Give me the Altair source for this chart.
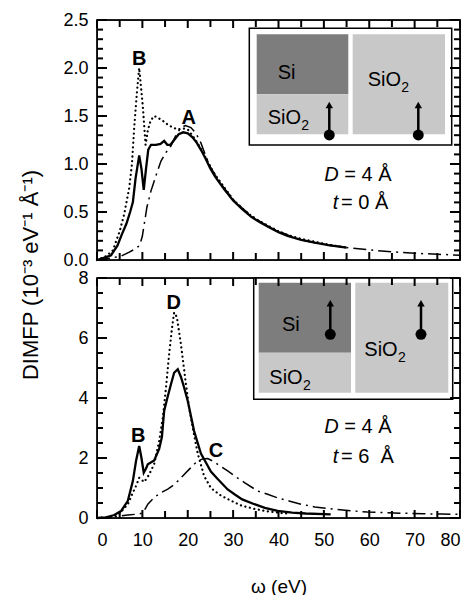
import altair as alt
import pandas as pd

FONT = "Liberation Sans"

# ---------------- data ----------------
x_ticks_major = [0, 10, 20, 30, 40, 50, 60, 70, 80]
x_ticks_minor = [5, 15, 25, 35, 45, 55, 65, 75]

top_y_labels = [0.0, 0.5, 1.0, 1.5, 2.0, 2.5]
top_y_minor = [0.1, 0.2, 0.3, 0.4, 0.6, 0.7, 0.8, 0.9, 1.1, 1.2, 1.3, 1.4,
               1.6, 1.7, 1.8, 1.9, 2.1, 2.2, 2.3, 2.4]
bot_y_labels = [0, 2, 4, 6, 8]
bot_y_minor = [0.5, 1.0, 1.5, 2.5, 3.0, 3.5, 4.5, 5.0, 5.5, 6.5, 7.0, 7.5]

# top panel (t = 0 A)
top_solid_w = [0, 2, 3.1, 4.5, 5.5, 6.5, 7.3, 7.9, 8.5, 9.3, 9.8, 10.3, 10.8, 11.3, 11.9,
               13, 14, 14.8, 15.5, 16.2, 17, 18, 19, 20, 21, 22, 23, 24, 25, 26, 28,
               30, 32, 34, 36, 38, 40, 42, 45, 48, 51, 55]
top_solid_v = [0, 0.03, 0.05, 0.15, 0.27, 0.38, 0.5, 0.6, 0.85, 1.09, 0.95, 0.73, 0.95, 1.15, 1.2,
               1.2, 1.21, 1.24, 1.2, 1.2, 1.25, 1.31, 1.33, 1.32, 1.28, 1.22, 1.14, 1.05, 0.95, 0.87, 0.74,
               0.62, 0.53, 0.45, 0.39, 0.34, 0.29, 0.25, 0.21, 0.18, 0.155, 0.13]

top_dot_w = [0, 2, 3.5, 5, 6, 7.1, 7.7, 8.2, 8.8, 9.3, 9.7, 10.1, 10.4, 10.7, 11.2, 11.8,
             12.6, 13.5, 14.5, 15.6, 16.7, 17.8, 19, 20, 21, 22, 23, 24, 25, 26, 28,
             30, 32, 34, 36, 38, 40, 42, 45, 48, 51, 55]
top_dot_v = [0, 0.04, 0.1, 0.3, 0.48, 0.75, 1.0, 1.38, 1.75, 2.0, 1.8, 1.6, 1.4, 1.2, 1.35, 1.45,
             1.5, 1.48, 1.45, 1.41, 1.38, 1.36, 1.37, 1.36, 1.3, 1.23, 1.15, 1.06, 0.97, 0.89, 0.76,
             0.63, 0.54, 0.46, 0.4, 0.35, 0.3, 0.26, 0.22, 0.19, 0.16, 0.13]

top_dd_w = [0, 3, 5.3, 7, 8.2, 9.4, 10, 10.5, 11, 11.9, 13, 14.1, 15.2, 16.3, 17.4, 18.5,
            19.5, 20.7, 21.8, 22.9, 24, 25, 26, 28, 30, 32, 34, 36, 38, 40, 42, 45,
            48, 51, 55, 60, 65, 70, 75, 80]
top_dd_v = [0, 0.02, 0.04, 0.08, 0.11, 0.15, 0.25, 0.4, 0.55, 0.72, 0.88, 1.03, 1.12, 1.19, 1.3, 1.38,
            1.4, 1.38, 1.32, 1.22, 1.08, 0.97, 0.89, 0.75, 0.63, 0.54, 0.46, 0.4, 0.34, 0.3, 0.26, 0.21,
            0.18, 0.155, 0.13, 0.105, 0.085, 0.07, 0.06, 0.05]

# bottom panel (t = 6 A)
bot_solid_w = [0, 2, 3.8, 5.3, 6.8, 7.9, 8.6, 9.3, 9.8, 10.3, 10.8, 11.2, 12.6, 13.7, 14.3,
               14.8, 15.5, 16.3, 17.0, 17.8, 18.5, 19.2, 20, 21.4, 22.9, 24, 25.1, 26.6, 28.8,
               30.3, 32, 34.7, 37, 39.8, 43, 46, 50, 51.5]
bot_solid_v = [0, 0.02, 0.1, 0.23, 0.57, 1.23, 1.9, 2.4, 2.0, 1.51, 1.65, 1.79, 1.92, 2.3, 2.7,
               3.57, 4.0, 4.46, 4.84, 4.96, 4.7, 4.35, 3.9, 2.9, 2.15, 1.85, 1.55, 1.3, 0.95,
               0.79, 0.62, 0.46, 0.34, 0.24, 0.18, 0.15, 0.13, 0.12]

bot_dot_w = [0, 3, 5, 6.8, 7.9, 8.6, 9.3, 10.4, 11.5, 12.6, 13.7, 14.5, 15.2, 15.9, 16.5,
             17.0, 17.6, 18.5, 19.6, 20.3, 21.1, 22.2, 23.6, 25.1, 27.3, 29.5, 31.7, 34.5,
             37.6, 41, 42]
bot_dot_v = [0, 0.03, 0.15, 0.46, 0.84, 1.07, 1.34, 1.2, 1.45, 1.8, 2.57, 3.34, 4.34, 5.46, 6.3,
             6.85, 6.7, 5.79, 4.46, 3.68, 3.01, 2.15, 1.4, 1.0, 0.75, 0.58, 0.42, 0.31,
             0.22, 0.16, 0.15]

bot_dd_w = [0, 3, 5, 6.8, 9, 10, 10.6, 11.2, 12.6, 14, 15.6, 16.7, 17.8, 19, 20.3, 21.3,
            22.2, 23.3, 24.4, 25.5, 26.6, 28.8, 30.5, 32.5, 35.4, 37.6, 40, 42.5, 45, 48,
            52.3, 56, 59.6, 63, 67, 72, 76, 80]
bot_dd_v = [0, 0.02, 0.07, 0.1, 0.13, 0.16, 0.3, 0.46, 0.68, 0.84, 0.96, 1.08, 1.23, 1.42, 1.62, 1.78,
            1.9, 1.97, 1.98, 1.9, 1.79, 1.57, 1.38, 1.18, 0.9, 0.79, 0.66, 0.56, 0.46, 0.37,
            0.29, 0.24, 0.2, 0.18, 0.16, 0.14, 0.13, 0.12]

top_letters = ["B", "A"]
top_letters_w = [9.3, 20.2]
top_letters_v = [2.09, 1.48]
bot_letters = ["D", "B", "C"]
bot_letters_w = [16.9, 9.1, 26.2]
bot_letters_v = [7.18, 2.73, 2.23]

# ---------------- layout constants ----------------
W, H = 363, 240
DARK = "#7d7d7d"
LIGHT = "#c8c8c8"
one = pd.DataFrame({"k": [0]})


def txt(s, x, y, size, align="left", baseline="alphabetic", style="normal",
        weight="normal", angle=0):
    return alt.Chart(one).mark_text(
        text=s, fontSize=size, align=align, baseline=baseline, fontStyle=style,
        fontWeight=weight, angle=angle, font=FONT, color="black"
    ).encode(x=alt.value(x), y=alt.value(y))


def rect(x1, y1, x2, y2, fill, stroke=None, sw=0, fo=1):
    kw = dict(fill=fill, strokeWidth=sw, fillOpacity=fo)
    if stroke:
        kw["stroke"] = stroke
    return alt.Chart(one).mark_rect(**kw).encode(
        x=alt.value(x1), x2=alt.value(x2), y=alt.value(y1), y2=alt.value(y2))


def arrow(x, ydot, ytip):
    shaft = alt.Chart(one).mark_rule(color="black", strokeWidth=2.5).encode(
        x=alt.value(x), y=alt.value(ydot), y2=alt.value(ytip + 6))
    head = alt.Chart(one).mark_point(shape="triangle-up", filled=True, size=55,
                                     color="black", opacity=1).encode(
        x=alt.value(x), y=alt.value(ytip + 4))
    dot = alt.Chart(one).mark_circle(size=120, color="black", opacity=1).encode(
        x=alt.value(x), y=alt.value(ydot))
    return [shaft, head, dot]


def sio2(x, y, size=20):
    return [txt("SiO", x, y, size), txt("2", x + size * 1.68, y + 6, size * 0.7)]


def tick_table(xmaj, xmin, ymaj, ymin, ymax):
    """Two-point segments for inward ticks on all four edges (lengths in px -> data)."""
    rows = []
    g = 0
    for vals, ln in ((xmaj, 8), (xmin, 7)):
        dv = ln / H * ymax
        for t in vals:
            rows += [(float(t), 0.0, g), (float(t), dv, g)]
            g += 1
            rows += [(float(t), float(ymax), g), (float(t), ymax - dv, g)]
            g += 1
    for vals, ln in ((ymaj, 10), (ymin, 6)):
        dw = ln / W * 80
        for t in vals:
            rows += [(0.0, float(t), g), (dw, float(t), g)]
            g += 1
            rows += [(80 - dw, float(t), g), (80.0, float(t), g)]
            g += 1
    return pd.DataFrame(rows, columns=["w", "v", "g"])


def panel(curves, ydomain, ylabels, yminor, yfmt, letters, show_x, extra):
    xs = alt.Scale(domain=[0, 80], nice=False, zero=False)
    ys = alt.Scale(domain=ydomain, nice=False, zero=False)
    if show_x:
        xaxis = alt.Axis(values=x_ticks_major, format="d", ticks=False, domain=False,
                         grid=False, labelFontSize=18, labelPadding=13, labelFont=FONT,
                         title="ω (eV)", titleFontSize=19, titleFont=FONT,
                         titleFontWeight="normal", titlePadding=28, labelColor="black",
                         titleColor="black")
    else:
        xaxis = None
    yaxis = alt.Axis(values=ylabels, format=yfmt, ticks=False, domain=False, grid=False,
                     labelFontSize=18, labelPadding=9, labelFont=FONT, title=None,
                     labelColor="black")

    def X():
        return alt.X("w:Q", scale=xs, axis=xaxis,
                     title="ω (eV)" if show_x else None)

    def Y():
        return alt.Y("v:Q", scale=ys, axis=yaxis, title=None)

    layers = []
    styles = {
        "solid": dict(strokeWidth=2.3),
        "dot": dict(strokeWidth=2.2, strokeDash=[0.1, 4.5], strokeCap="round"),
        "dd": dict(strokeWidth=1.5, strokeDash=[13, 5, 2, 5]),
    }
    for name, (wv, vv) in curves.items():
        df = pd.DataFrame({"w": wv, "v": vv})
        layers.append(alt.Chart(df).mark_line(color="black", **styles[name]).encode(
            x=X(), y=Y()))

    # frame
    layers.append(rect(0, 0, W, H, "white", "black", 1.5, 0))

    lab, lw, lv = letters
    df = pd.DataFrame({"w": lw, "v": lv, "t": lab})
    layers.append(alt.Chart(df).mark_text(fontSize=20, fontWeight="bold", font=FONT,
                                          color="black", baseline="middle").encode(
        x=X(), y=Y(), text="t:N"))

    layers.extend(extra)

    # inward ticks drawn as short line segments, on top of everything
    tdf = tick_table(x_ticks_major, x_ticks_minor, ylabels, yminor, ydomain[1])
    layers.append(alt.Chart(tdf).mark_line(stroke="#000000", color="#000000",
                                           strokeWidth=2, opacity=1,
                                           strokeOpacity=1).encode(
        x=X(), y=Y(), detail="g:N"))
    return alt.layer(*layers).properties(width=W, height=H)


top_extra = [
    rect(152.3, 8.3, 354.7, 125, "white", "black", 1.5),
    rect(159.7, 14.3, 251.3, 74.3, DARK),
    rect(159.7, 74.3, 251.3, 114.3, LIGHT),
    rect(255.7, 14.3, 348, 114.3, LIGHT),
    txt("Si", 180.7, 59.3, 20),
    *sio2(270.7, 66),
    *sio2(170.7, 104.3),
    *arrow(232.3, 115, 81),
    *arrow(321.3, 115, 81),
    txt("D", 227.3, 161, 20, style="italic"),
    txt("= 4 Å", 247.3, 161, 20),
    txt("t", 235.7, 189, 20, style="italic"),
    txt("= 0 Å", 244, 189, 20),
    txt("DIMFP (10⁻³ eV⁻¹ Å⁻¹)", -66, 255, 22, align="center", baseline="middle",
        angle=270),
]

bot_extra = [
    rect(156.7, 0, 355.7, 121.3, "white", "black", 1.5),
    rect(161.7, 4.7, 254, 74.7, DARK),
    rect(161.7, 74.7, 254, 114.7, LIGHT),
    rect(258.3, 4.7, 351.3, 114.7, LIGHT),
    txt("Si", 185, 53, 20),
    *sio2(172.3, 106.3),
    *sio2(267.3, 78),
    *arrow(233.3, 56.3, 21.3),
    *arrow(324, 56.3, 21.3),
    txt("D", 227.3, 154.7, 20, style="italic"),
    txt("= 4 Å", 247.3, 154.7, 20),
    txt("t", 235.7, 185.3, 20, style="italic"),
    txt("= 6\u00a0\u00a0Å", 244, 185.3, 20),
]

top = panel({"dd": (top_dd_w, top_dd_v), "dot": (top_dot_w, top_dot_v),
             "solid": (top_solid_w, top_solid_v)},
            [0, 2.5], top_y_labels, top_y_minor, ".1f",
            (top_letters, top_letters_w, top_letters_v), False, top_extra)
bottom = panel({"dd": (bot_dd_w, bot_dd_v), "dot": (bot_dot_w, bot_dot_v),
                "solid": (bot_solid_w, bot_solid_v)},
               [0, 8], bot_y_labels, bot_y_minor, "d",
               (bot_letters, bot_letters_w, bot_letters_v), True, bot_extra)

chart = alt.vconcat(top, bottom, spacing=18, bounds="flush").properties(
    padding={"left": 19, "top": 10, "right": 5, "bottom": 5},
    background="white",
).configure_view(stroke="black", strokeWidth=1.3)

chart.save("out.html", embed_options={"renderer": "svg", "actions": False})
